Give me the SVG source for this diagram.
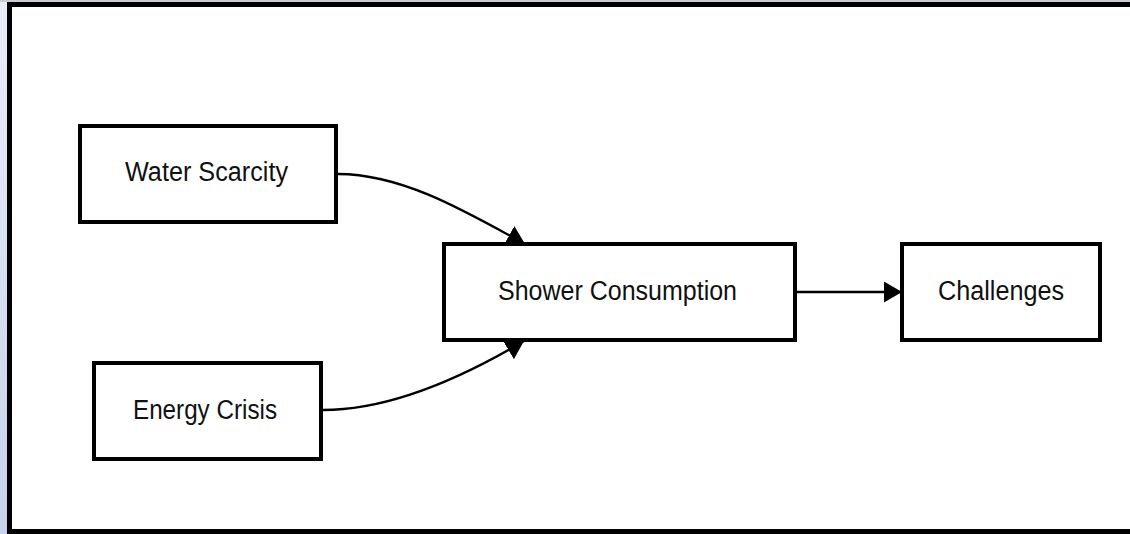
<svg xmlns="http://www.w3.org/2000/svg" width="1130" height="534" viewBox="0 0 1130 534">
  <defs>
    <linearGradient id="side" x1="0" y1="0" x2="0" y2="1">
      <stop offset="0" stop-color="#e8edf8"/>
      <stop offset="1" stop-color="#c6d3ec"/>
    </linearGradient>
    <marker id="arrow" markerUnits="userSpaceOnUse" markerWidth="20" markerHeight="22" refX="18" refY="10.5" orient="auto" viewBox="0 0 20 22">
      <path d="M0,0 L18,10.5 L0,21 Z" fill="#000"/>
    </marker>
    <style>
      .node rect { fill: #fff; stroke: #000; stroke-width: 4; }
      .node text { font-family: "Liberation Sans", Arial, sans-serif; font-size: 27px; fill: #111; text-anchor: middle; }
      .edge { fill: none; stroke: #000; stroke-width: 2.3; marker-end: url(#arrow); }
    </style>
  </defs>
  <rect x="0" y="0" width="1130" height="534" fill="#fff"/>
  <rect x="0" y="0" width="8" height="534" fill="url(#side)"/>
  <rect x="0" y="0" width="1130" height="2" fill="#c8ccd4"/>
  <rect x="9.5" y="4.5" width="1130" height="527" fill="#fff" stroke="#000" stroke-width="5"/>

  <g id="connectors">
    <path class="edge" d="M338,174 C400,174 460,208 525,244"/>
    <path class="edge" d="M323,410 C385,410 455,382 524,341"/>
    <path class="edge" d="M797,292 L902,292"/>
  </g>

  <g id="water-scarcity" class="node">
    <rect x="80" y="126" width="256" height="96"/>
    <text x="206.5" y="181" textLength="163" lengthAdjust="spacingAndGlyphs">Water Scarcity</text>
  </g>
  <g id="energy-crisis" class="node">
    <rect x="94" y="363" width="227" height="96"/>
    <text x="205" y="419" textLength="144" lengthAdjust="spacingAndGlyphs">Energy Crisis</text>
  </g>
  <g id="shower-consumption" class="node">
    <rect x="444" y="244" width="351" height="96"/>
    <text x="617.5" y="300" textLength="239" lengthAdjust="spacingAndGlyphs">Shower Consumption</text>
  </g>
  <g id="challenges" class="node">
    <rect x="902" y="244" width="198" height="96"/>
    <text x="1001" y="300" textLength="126" lengthAdjust="spacingAndGlyphs">Challenges</text>
  </g>
</svg>
